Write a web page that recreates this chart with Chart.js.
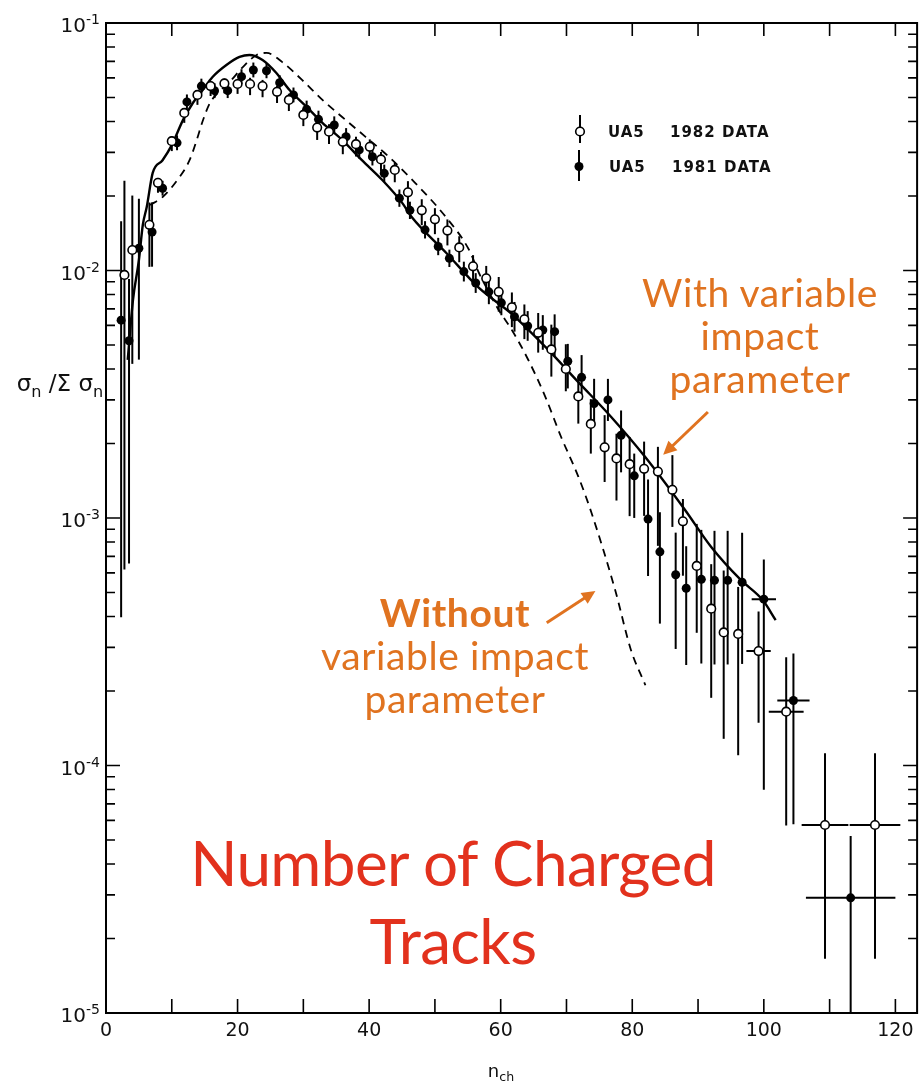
<!DOCTYPE html>
<html>
<head>
<meta charset="utf-8">
<title>UA5 charged multiplicity distribution</title>
<script src="https://cdn.jsdelivr.net/npm/chart.js@4.4.1/dist/chart.umd.min.js"></script>
<style>
  html, body { margin: 0; padding: 0; background: #fff; }
  #wrap { position: relative; width: 923px; height: 1089px; overflow: hidden; }
  #multChart { position: absolute; left: 0; top: 0; }
  .txt { position: absolute; white-space: nowrap; line-height: 1; }
  .legend { font-family: 'DejaVu Sans', sans-serif; font-weight: bold; font-size: 15px; letter-spacing: 1px; color: #111; transform: translateY(-50%); }
  .axis-title { font-family: 'DejaVu Sans', sans-serif; color: #111; transform: translate(-50%, -50%); }
  .axis-title sub { font-size: 70%; vertical-align: -0.35em; }
  .ytick { font-family: 'DejaVu Sans', sans-serif; font-size: 20px; color: #111; transform: translateY(-42%); }
  .ytick sup { font-size: 14px; vertical-align: 0.55em; line-height: 0; }
  .note { font-family: Lato, 'Open Sans', sans-serif; text-align: center; transform: translateX(-50%); }
  .orange { color: #e07320; font-size: 39px; line-height: 43px; letter-spacing: 0.6px; }
  .red { color: #e2311d; font-size: 62px; line-height: 78px; letter-spacing: -0.6px; }
</style>
</head>
<body>
<div id="wrap">
  <canvas id="multChart" width="923" height="1089"></canvas>

  <div class="txt legend" style="left:608px; top:132px;">UA5</div>
  <div class="txt legend" style="left:670px; top:132px;">1982 DATA</div>
  <div class="txt legend" style="left:609px; top:167px;">UA5</div>
  <div class="txt legend" style="left:672px; top:167px;">1981 DATA</div>

  <div class="txt axis-title" style="left:60px; top:386px; font-size:23px;">σ<sub>n</sub> /Σ σ<sub>n</sub></div>
  <div class="txt axis-title" style="left:501px; top:1073px; font-size:18px;">n<sub>ch</sub></div>

  <div class="txt note orange" style="left:760px; top:271px;">With variable<br>impact<br>parameter</div>
  <div class="txt note orange" style="left:455px; top:591px;"><b>Without</b><br>variable impact<br>parameter</div>
  <div class="txt note red" style="left:453px; top:823px;">Number of Charged<br>Tracks</div>
</div>

<script>
// UA5 1982 data (open circles)
const n1982 = [2.8, 4.0, 6.6, 7.9, 10.0, 11.9, 13.9, 15.9, 18.0, 20.0,
  21.9, 23.8, 26.0, 27.8, 30.0, 32.1, 33.9, 36.0, 38.0, 40.1,
  41.8, 43.9, 45.9, 48.0, 50.0, 51.9, 53.7, 55.8, 57.8, 59.7,
  61.7, 63.6, 65.7, 67.7, 69.9, 71.8, 73.7, 75.8, 77.6, 79.6,
  81.8, 83.9, 86.1, 87.7, 89.8, 92.0, 93.9, 96.1, 99.2, 103.4,
  109.3, 116.9];
const sigma1982 = [9.6e-3, 0.0121, 0.0153, 0.0226, 0.0333, 0.0433, 0.0512, 0.0556, 0.057, 0.0567,
  0.0567, 0.0556, 0.0527, 0.0489, 0.0425, 0.0378, 0.0364, 0.0331, 0.0324, 0.0316,
  0.0281, 0.0255, 0.0207, 0.0175, 0.0161, 0.0145, 0.0124, 0.0104, 9.3e-3, 8.2e-3,
  7.1e-3, 6.35e-3, 5.6e-3, 4.8e-3, 4.0e-3, 3.1e-3, 2.4e-3, 1.93e-3, 1.74e-3, 1.65e-3,
  1.58e-3, 1.54e-3, 1.3e-3, 9.7e-4, 6.4e-4, 4.3e-4, 3.45e-4, 3.4e-4, 2.9e-4, 1.65e-4,
  5.75e-5, 5.75e-5];
// error bar lengths in decades (up / down), bin half widths in n
const errUp1982 = [0.38, 0.22, 0.09, 0.02, 0.02, 0.02, 0.02, 0.02, 0.02, 0.02,
  0.025, 0.025, 0.025, 0.025, 0.025, 0.03, 0.03, 0.03, 0.03, 0.03,
  0.03, 0.03, 0.045, 0.045, 0.045, 0.045, 0.045, 0.045, 0.05, 0.06,
  0.06, 0.06, 0.08, 0.1, 0.1, 0.08, 0.1, 0.13, 0.1, 0.11,
  0.11, 0.1, 0.14, 0.09, 0.17, 0.18, 0.25, 0.19, 0.16, 0.22,
  0.29, 0.29];
const errDn1982 = [1.19, 0.46, 0.17, 0.04, 0.04, 0.04, 0.04, 0.04, 0.04, 0.04,
  0.045, 0.045, 0.045, 0.045, 0.045, 0.05, 0.05, 0.05, 0.05, 0.05,
  0.05, 0.05, 0.06, 0.06, 0.06, 0.06, 0.06, 0.06, 0.06, 0.08,
  0.08, 0.08, 0.08, 0.11, 0.09, 0.11, 0.12, 0.14, 0.17, 0.21,
  0.19, 0.3, 0.15, 0.22, 0.27, 0.36, 0.43, 0.49, 0.29, 0.46,
  0.54, 0.54];
const bin1982 = [0, 0, 0, 0, 0, 0, 0, 0, 0, 0, 0, 0, 0, 0, 0, 0, 0, 0, 0, 0,
  0, 0, 0, 0, 0, 0, 0, 0, 0, 0, 0, 0, 0, 0, 0, 0, 0, 0, 0, 0,
  0, 0, 0, 0, 0, 0, 0, 0, 1.85, 2.65, 3.55, 3.85];

// UA5 1981 data (filled circles)
const n1981 = [2.3, 3.5, 5.0, 7.0, 8.6, 10.8, 12.3, 14.5, 16.5, 18.5,
  20.6, 22.4, 24.4, 26.4, 28.5, 30.5, 32.3, 34.7, 36.5, 38.5,
  40.5, 42.3, 44.6, 46.2, 48.5, 50.5, 52.2, 54.4, 56.2, 58.2,
  60.1, 62.1, 64.1, 66.4, 68.2, 70.2, 72.3, 74.2, 76.3, 78.3,
  80.3, 82.4, 84.2, 86.6, 88.2, 90.5, 92.5, 94.5, 96.7, 100.0,
  104.5, 113.2];
const sigma1981 = [6.3e-3, 5.2e-3, 0.0123, 0.0143, 0.0215, 0.0328, 0.048, 0.0556, 0.0533, 0.0533,
  0.0607, 0.0646, 0.0641, 0.0574, 0.0512, 0.0448, 0.0408, 0.0387, 0.0347, 0.0307,
  0.0288, 0.0247, 0.0196, 0.0175, 0.0146, 0.0125, 0.0112, 9.9e-3, 8.9e-3, 8.2e-3,
  7.4e-3, 6.5e-3, 5.97e-3, 5.75e-3, 5.66e-3, 4.3e-3, 3.7e-3, 2.9e-3, 3.0e-3, 2.16e-3,
  1.48e-3, 9.9e-4, 7.3e-4, 5.9e-4, 5.2e-4, 5.65e-4, 5.6e-4, 5.6e-4, 5.5e-4, 4.7e-4,
  1.83e-4, 2.92e-5];
const errUp1981 = [0.40, 0.25, 0.2, 0.12, 0.03, 0.03, 0.03, 0.03, 0.03, 0.03,
  0.03, 0.03, 0.03, 0.03, 0.03, 0.035, 0.035, 0.035, 0.035, 0.035,
  0.035, 0.035, 0.035, 0.035, 0.035, 0.035, 0.035, 0.04, 0.04, 0.05,
  0.05, 0.06, 0.06, 0.06, 0.07, 0.07, 0.09, 0.1, 0.085, 0.1,
  0.09, 0.16, 0.16, 0.17, 0.17, 0.2, 0.2, 0.2, 0.2, 0.16,
  0.19, 0.25];
const errDn1981 = [1.2, 0.9, 0.45, 0.14, 0.03, 0.03, 0.03, 0.03, 0.03, 0.03,
  0.03, 0.03, 0.03, 0.03, 0.03, 0.035, 0.035, 0.035, 0.035, 0.035,
  0.035, 0.035, 0.035, 0.035, 0.035, 0.035, 0.035, 0.04, 0.04, 0.05,
  0.05, 0.06, 0.06, 0.08, 0.1, 0.11, 0.09, 0.09, 0.085, 0.15,
  0.17, 0.23, 0.29, 0.3, 0.31, 0.34, 0.34, 0.34, 0.33, 0.77,
  0.5, 1.0];
const bin1981 = [0, 0, 0, 0, 0, 0, 0, 0, 0, 0, 0, 0, 0, 0, 0, 0, 0, 0, 0, 0,
  0, 0, 0, 0, 0, 0, 0, 0, 0, 0, 0, 0, 0, 0, 0, 0, 0, 0, 0, 0,
  0, 0, 0, 0, 0, 0, 0, 0, 0, 1.85, 2.45, 6.8];

// model curves
const nWith = [3.3, 4.1, 5.0, 5.6, 6.2, 7.1, 8.6, 10.0, 11.7, 13.2,
  14.7, 16.2, 18.3, 20.3, 21.8, 23.8, 25.9, 27.9, 30.5, 32.9,
  35.9, 38.9, 42.0, 45.0, 46.5, 51.7, 56.7, 61.7, 66.8, 71.8,
  76.8, 82.0, 88.0, 92.0, 96.5, 99.8, 101.8];
const sigmaWith = [4.35e-3, 7.6e-3, 0.0110, 0.0153, 0.0181, 0.0248, 0.0279, 0.0321, 0.0405, 0.0475,
  0.0536, 0.0605, 0.0676, 0.0729, 0.0743, 0.0709, 0.0628, 0.0536, 0.0458, 0.0395,
  0.0337, 0.0279, 0.0232, 0.0188, 0.0164, 0.0118, 8.5e-3, 6.67e-3, 4.91e-3, 3.54e-3,
  2.56e-3, 1.76e-3, 1.08e-3, 7.64e-4, 5.62e-4, 4.67e-4, 3.87e-4];

const nWithout = [6.7, 8.6, 11.2, 12.7, 13.8, 14.7, 15.8, 17.0, 18.8, 20.8,
  22.9, 24.4, 26.8, 29.8, 32.9, 35.9, 39.5, 43.0, 46.1, 51.7,
  55.2, 56.7, 58.6, 59.7, 61.7, 64.2, 66.8, 69.2, 71.8, 73.8,
  77.4, 79.8, 82.0];
const sigmaWithout = [0.0184, 0.0198, 0.0239, 0.0279, 0.0337, 0.0402, 0.0475, 0.0521, 0.0578, 0.0664,
  0.0743, 0.0757, 0.0695, 0.0589, 0.0489, 0.0417, 0.0346, 0.0288, 0.0239, 0.0164,
  0.0121, 9.77e-3, 7.82e-3, 6.92e-3, 5.75e-3, 4.35e-3, 3.08e-3, 2.12e-3, 1.47e-3, 1.05e-3,
  5.12e-4, 2.93e-4, 2.11e-4];

// axes
const yTickValues = [1e-5, 1e-4, 1e-3, 1e-2, 1e-1];
const yTickExponents = ['-5', '-4', '-3', '-2', '-1'];
const xTickMarks = [0, 10, 20, 30, 40, 50, 60, 70, 80, 90, 100, 110, 120];

// orange arrows, in (n, sigma) coordinates
const arrowWith = { from: [91.5, 2.68e-3], to: [84.7, 1.8e-3] };
const arrowWithout = { from: [67.0, 3.77e-4], to: [74.4, 5.07e-4] };

const ORANGE = '#e07320';

function toPoints(xs, ys) {
    return xs.map((x, i) => ({ x: x, y: ys[i] }));
}

const errorBars = {
    id: 'errorBars',
    beforeDatasetsDraw(chart) {
        const { ctx, chartArea: a, scales: { x, y } } = chart;
        ctx.save();
        ctx.beginPath();
        ctx.rect(a.left, a.top, a.right - a.left, a.bottom - a.top);
        ctx.clip();
        ctx.strokeStyle = '#000';
        ctx.lineWidth = 2;
        chart.data.datasets.forEach(ds => {
            if (!ds.errUp) return;
            ds.data.forEach((p, i) => {
                const px = x.getPixelForValue(p.x);
                const top = y.getPixelForValue(p.y * Math.pow(10, ds.errUp[i]));
                const bot = y.getPixelForValue(p.y / Math.pow(10, ds.errDn[i]));
                ctx.beginPath();
                ctx.moveTo(px, top);
                ctx.lineTo(px, bot);
                if (ds.bin[i]) {
                    const py = y.getPixelForValue(p.y);
                    ctx.moveTo(x.getPixelForValue(p.x - ds.bin[i]), py);
                    ctx.lineTo(x.getPixelForValue(p.x + ds.bin[i]), py);
                }
                ctx.stroke();
            });
        });
        ctx.restore();
    }
};

const frameAndTicks = {
    id: 'frameAndTicks',
    afterDraw(chart) {
        const { ctx, chartArea: a, scales: { x, y } } = chart;
        ctx.save();
        ctx.strokeStyle = '#000';
        ctx.lineWidth = 2;
        ctx.strokeRect(a.left, a.top, a.right - a.left, a.bottom - a.top);

        ctx.lineWidth = 1.6;
        ctx.beginPath();
        xTickMarks.forEach(v => {
            const px = x.getPixelForValue(v);
            ctx.moveTo(px, a.bottom);
            ctx.lineTo(px, a.bottom - 14);
            ctx.moveTo(px, a.top);
            ctx.lineTo(px, a.top + 13);
        });
        // decades get long marks, 2..9 short ones, on both sides
        for (let d = 0; d < yTickValues.length - 1; d++) {
            for (let m = 1; m <= 9; m++) {
                const py = y.getPixelForValue(yTickValues[d] * m);
                const len = m === 1 ? 14 : 9;
                ctx.moveTo(a.left, py);
                ctx.lineTo(a.left + len, py);
                ctx.moveTo(a.right, py);
                ctx.lineTo(a.right - len, py);
            }
        }
        ctx.stroke();

        // legend glyphs
        ctx.lineWidth = 2;
        ctx.beginPath();
        ctx.moveTo(580, 115); ctx.lineTo(580, 143);
        ctx.moveTo(579, 150); ctx.lineTo(579, 181);
        ctx.stroke();
        ctx.beginPath();
        ctx.arc(580, 131.5, 4.3, 0, Math.PI * 2);
        ctx.fillStyle = '#fff';
        ctx.fill();
        ctx.lineWidth = 1.6;
        ctx.stroke();
        ctx.beginPath();
        ctx.arc(579, 166.5, 4.5, 0, Math.PI * 2);
        ctx.fillStyle = '#000';
        ctx.fill();

        // annotation arrows
        [arrowWith, arrowWithout].forEach(ar => {
            const x0 = x.getPixelForValue(ar.from[0]);
            const y0 = y.getPixelForValue(ar.from[1]);
            const x1 = x.getPixelForValue(ar.to[0]);
            const y1 = y.getPixelForValue(ar.to[1]);
            const ang = Math.atan2(y1 - y0, x1 - x0);
            const head = 15;
            ctx.strokeStyle = ORANGE;
            ctx.fillStyle = ORANGE;
            ctx.lineWidth = 3;
            ctx.beginPath();
            ctx.moveTo(x0, y0);
            ctx.lineTo(x1 - Math.cos(ang) * head * 0.8, y1 - Math.sin(ang) * head * 0.8);
            ctx.stroke();
            ctx.beginPath();
            ctx.moveTo(x1, y1);
            ctx.lineTo(x1 - head * Math.cos(ang - 0.45), y1 - head * Math.sin(ang - 0.45));
            ctx.lineTo(x1 - head * Math.cos(ang + 0.45), y1 - head * Math.sin(ang + 0.45));
            ctx.closePath();
            ctx.fill();
        });
        ctx.restore();
    }
};

const chart = new Chart(document.getElementById('multChart').getContext('2d'), {
    type: 'scatter',
    data: {
        datasets: [
            {
                label: 'UA5 1982 DATA',
                data: toPoints(n1982, sigma1982),
                errUp: errUp1982,
                errDn: errDn1982,
                bin: bin1982,
                pointStyle: 'circle',
                pointRadius: 4.3,
                pointBorderWidth: 1.6,
                pointBorderColor: '#000',
                pointBackgroundColor: '#fff',
                order: 0
            },
            {
                label: 'UA5 1981 DATA',
                data: toPoints(n1981, sigma1981),
                errUp: errUp1981,
                errDn: errDn1981,
                bin: bin1981,
                pointStyle: 'circle',
                pointRadius: 4.5,
                pointBorderWidth: 0,
                pointBackgroundColor: '#000',
                order: 1
            },
            {
                label: 'With variable impact parameter',
                data: toPoints(nWith, sigmaWith),
                showLine: true,
                pointRadius: 0,
                borderColor: '#000',
                borderWidth: 2.4,
                cubicInterpolationMode: 'monotone',
                order: 2
            },
            {
                label: 'Without variable impact parameter',
                data: toPoints(nWithout, sigmaWithout),
                showLine: true,
                pointRadius: 0,
                borderColor: '#000',
                borderWidth: 1.8,
                borderDash: [8, 6],
                cubicInterpolationMode: 'monotone',
                order: 3
            }
        ]
    },
    options: {
        responsive: false,
        animation: false,
        devicePixelRatio: 1,
        layout: {
            padding: { top: 23, right: 3, left: 0, bottom: 0 }
        },
        plugins: {
            legend: { display: false },
            tooltip: { enabled: false }
        },
        scales: {
            x: {
                type: 'linear',
                min: 0,
                max: 123.3,
                grid: { display: false, drawTicks: false },
                border: { display: false },
                ticks: {
                    stepSize: 20,
                    includeBounds: false,
                    maxRotation: 0,
                    autoSkip: false,
                    padding: 7,
                    color: '#111',
                    font: { family: 'DejaVu Sans', size: 19 }
                },
                afterFit: scale => { scale.height = 76; }
            },
            y: {
                type: 'logarithmic',
                min: 1e-5,
                max: 1e-1,
                grid: { display: false, drawTicks: false },
                border: { display: false },
                afterBuildTicks: scale => {
                    scale.ticks = yTickValues.map(v => ({ value: v, major: true }));
                },
                ticks: { display: false },
                afterFit: scale => { scale.width = 106; }
            }
        }
    },
    plugins: [errorBars, frameAndTicks]
});

// decade labels with a raised exponent, placed on the log scale
const wrap = document.getElementById('wrap');
yTickValues.forEach((v, i) => {
    const label = document.createElement('div');
    label.className = 'txt ytick';
    label.style.right = (923 - 100) + 'px';
    label.style.top = chart.scales.y.getPixelForValue(v) + 'px';
    label.innerHTML = '10<sup>' + yTickExponents[i] + '</sup>';
    wrap.appendChild(label);
});
</script>
</body>
</html>
